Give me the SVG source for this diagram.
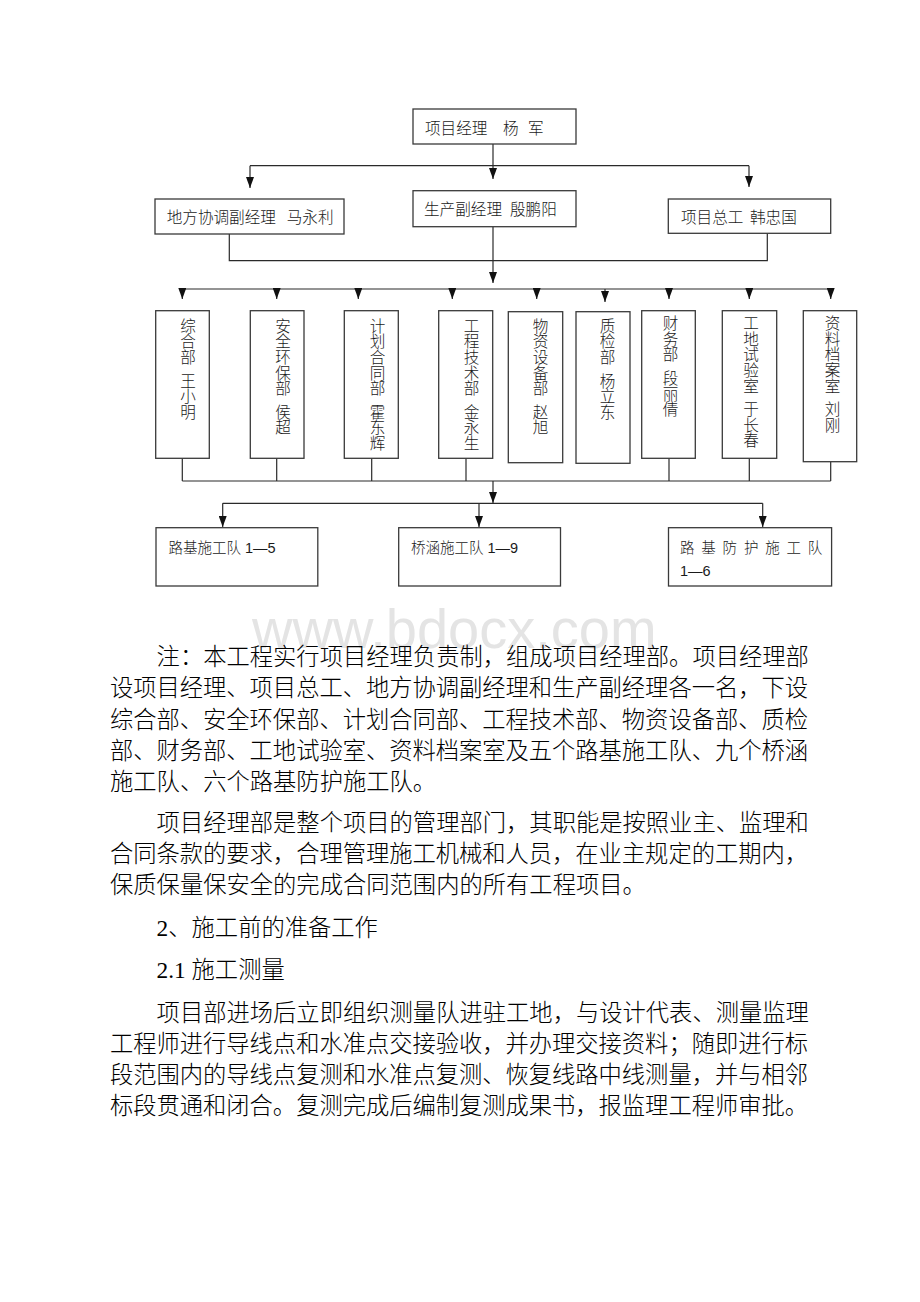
<svg xmlns="http://www.w3.org/2000/svg" width="920" height="1302" viewBox="0 0 920 1302">
<defs>
<style>
.box{fill:#fff;stroke:#3a3a3a;stroke-width:1.3}
.ln{fill:none;stroke:#2a2a2a;stroke-width:1.2}
.lbl{font-family:'Liberation Serif','Noto Sans CJK SC',serif;font-size:15.6px;font-weight:300;fill:#1a1a1a}
.vt{font-family:'Liberation Serif','Noto Sans CJK SC',serif;font-size:15.6px;font-weight:300;fill:#1a1a1a;writing-mode:vertical-rl}
.team{font-family:'Liberation Sans','Noto Sans CJK SC',sans-serif;font-size:14.5px;font-weight:300;fill:#1a1a1a}
.body{font-family:'Liberation Serif','Noto Sans CJK SC',serif;font-size:23.3px;font-weight:300;fill:#000}
.wm{font-family:'Liberation Sans',Arial,sans-serif;font-size:56px;fill:#e4e4e4}
</style>
<marker id="ah" viewBox="0 0 11 8" refX="11" refY="4" markerWidth="11" markerHeight="8" markerUnits="userSpaceOnUse" orient="auto"><path d="M0,0 L11,4 L0,8 z" fill="#111"/></marker>
</defs>
<rect width="920" height="1302" fill="#fff"/>

<g id="connectors">
<line class="ln" x1="493" y1="144" x2="493" y2="179" marker-end="url(#ah)"/>
<line class="ln" x1="250" y1="165.7" x2="749" y2="165.7"/>
<line class="ln" x1="250" y1="165.7" x2="250" y2="188" marker-end="url(#ah)"/>
<line class="ln" x1="749" y1="165.7" x2="749" y2="187" marker-end="url(#ah)"/>
<polyline class="ln" points="229.3,234 229.3,260.7 767.3,260.7 767.3,233.3"/>
<line class="ln" x1="493" y1="226.7" x2="493" y2="283" marker-end="url(#ah)"/>
<line class="ln" x1="182.3" y1="289" x2="830.7" y2="289"/>
<line class="ln" x1="182.3" y1="289" x2="182.3" y2="299" marker-end="url(#ah)"/>
<line class="ln" x1="276.7" y1="289" x2="276.7" y2="299" marker-end="url(#ah)"/>
<line class="ln" x1="358.3" y1="289" x2="358.3" y2="299" marker-end="url(#ah)"/>
<line class="ln" x1="452.3" y1="289" x2="452.3" y2="299" marker-end="url(#ah)"/>
<line class="ln" x1="536.7" y1="289" x2="536.7" y2="299" marker-end="url(#ah)"/>
<line class="ln" x1="605" y1="289" x2="605" y2="302" marker-end="url(#ah)"/>
<line class="ln" x1="669" y1="289" x2="669" y2="299" marker-end="url(#ah)"/>
<line class="ln" x1="749.3" y1="289" x2="749.3" y2="299" marker-end="url(#ah)"/>
<line class="ln" x1="830.7" y1="289" x2="830.7" y2="299" marker-end="url(#ah)"/>
<line class="ln" x1="182.3" y1="458.3" x2="182.3" y2="481"/>
<line class="ln" x1="276.7" y1="458.3" x2="276.7" y2="481"/>
<line class="ln" x1="371.7" y1="458.3" x2="371.7" y2="481"/>
<line class="ln" x1="466" y1="458.3" x2="466" y2="481"/>
<line class="ln" x1="669" y1="458.3" x2="669" y2="481"/>
<line class="ln" x1="749.3" y1="458.3" x2="749.3" y2="481"/>
<line class="ln" x1="830.7" y1="461.7" x2="830.7" y2="481"/>
<line class="ln" x1="182.3" y1="481" x2="830.7" y2="481"/>
<line class="ln" x1="493" y1="481" x2="493" y2="503" marker-end="url(#ah)"/>
<line class="ln" x1="222.7" y1="503.3" x2="762.7" y2="503.3"/>
<line class="ln" x1="222.7" y1="503.3" x2="222.7" y2="527" marker-end="url(#ah)"/>
<line class="ln" x1="479" y1="503.3" x2="479" y2="527" marker-end="url(#ah)"/>
<line class="ln" x1="762.7" y1="503.3" x2="762.7" y2="527" marker-end="url(#ah)"/>
</g>

<g id="pm"><rect class="box" x="413" y="109" width="163" height="35"/><text class="lbl" x="425" y="134" xml:space="preserve">项目经理　<tspan x="503">杨 </tspan><tspan x="528">军</tspan></text></g>
<g id="local"><rect class="box" x="155" y="199" width="189" height="35"/><text class="lbl" x="166.7" y="222.5">地方协调副经理 <tspan x="286.7">马永利</tspan></text></g>
<g id="prod"><rect class="box" x="413" y="190.7" width="163" height="36"/><text class="lbl" x="424" y="214.8">生产副经理 <tspan x="510">殷鹏阳</tspan></text></g>
<g id="chief"><rect class="box" x="668.3" y="199" width="162.4" height="34.3"/><text class="lbl" x="681" y="222.5">项目总工 <tspan x="750">韩忠国</tspan></text></g>

<g id="d1"><rect class="box" x="155.7" y="310.7" width="53.6" height="147.6"/><text class="vt" x="186.5" y="318">综合部<tspan dy="4"> 王小明</tspan></text></g>
<g id="d2"><rect class="box" x="250.3" y="310.7" width="53.7" height="147.6"/><text class="vt" x="281.5" y="318">安全环保部<tspan dy="4"> 侯超</tspan></text></g>
<g id="d3"><rect class="box" x="344.3" y="310.7" width="54" height="147.6"/><text class="vt" x="376" y="318">计划合同部<tspan dy="4"> 霍东辉</tspan></text></g>
<g id="d4"><rect class="box" x="438.7" y="310.7" width="54" height="147.6"/><text class="vt" x="470" y="318">工程技术部<tspan dy="4"> 金永生</tspan></text></g>
<g id="d5"><rect class="box" x="508.3" y="311.7" width="54.4" height="151"/><text class="vt" x="539" y="318">物资设备部<tspan dy="4"> 赵旭</tspan></text></g>
<g id="d6"><rect class="box" x="576" y="311.7" width="54" height="151.6"/><text class="vt" x="606" y="318">质检部<tspan dy="4"> 杨立东</tspan></text></g>
<g id="d7"><rect class="box" x="641.7" y="310.7" width="53.6" height="147.6"/><text class="vt" x="669" y="315.5">财务部<tspan dy="4"> 段丽倩</tspan></text></g>
<g id="d8"><rect class="box" x="722.3" y="310.7" width="54.4" height="147.6"/><text class="vt" x="749.5" y="315.5">工地试验室<tspan dy="4"> 于长春</tspan></text></g>
<g id="d9"><rect class="box" x="803.3" y="310.7" width="53.4" height="151"/><text class="vt" x="831" y="315.5">资料档案室<tspan dy="4"> 刘刚</tspan></text></g>

<g id="t1"><rect class="box" x="156" y="527.7" width="161.8" height="58.3"/><text class="team" x="168.5" y="553">路基施工队 1—5</text></g>
<g id="t2"><rect class="box" x="398.7" y="527.7" width="161.8" height="58.3"/><text class="team" x="411" y="553">桥涵施工队 1—9</text></g>
<g id="t3"><rect class="box" x="668.5" y="527.7" width="163.1" height="58.3"/><text class="team" x="680" y="553" letter-spacing="6.8">路基防护施工队</text><text class="team" x="680" y="575.5">1—6</text></g>

<text class="wm" x="252" y="648">www.bdocx.com</text>

<g id="body">
<text class="body" x="156.6" y="665">注：本工程实行项目经理负责制，组成项目经理部。项目经理部</text>
<text class="body" x="110" y="696" textLength="698" lengthAdjust="spacing">设项目经理、项目总工、地方协调副经理和生产副经理各一名，下设</text>
<text class="body" x="110" y="727.5" textLength="698" lengthAdjust="spacing">综合部、安全环保部、计划合同部、工程技术部、物资设备部、质检</text>
<text class="body" x="110" y="759" textLength="698" lengthAdjust="spacing">部、财务部、工地试验室、资料档案室及五个路基施工队、九个桥涵</text>
<text class="body" x="110" y="790">施工队、六个路基防护施工队。</text>
<text class="body" x="156.6" y="830.5">项目经理部是整个项目的管理部门，其职能是按照业主、监理和</text>
<text class="body" x="110" y="861.5" textLength="698" lengthAdjust="spacing">合同条款的要求，合理管理施工机械和人员，在业主规定的工期内，</text>
<text class="body" x="110" y="892.5">保质保量保安全的完成合同范围内的所有工程项目。</text>
<text class="body" x="156.6" y="935.5">2、施工前的准备工作</text>
<text class="body" x="156.6" y="977.5">2.1 施工测量</text>
<text class="body" x="156.6" y="1020.5">项目部进场后立即组织测量队进驻工地，与设计代表、测量监理</text>
<text class="body" x="110" y="1051.5" textLength="698" lengthAdjust="spacing">工程师进行导线点和水准点交接验收，并办理交接资料；随即进行标</text>
<text class="body" x="110" y="1082.5" textLength="698" lengthAdjust="spacing">段范围内的导线点复测和水准点复测、恢复线路中线测量，并与相邻</text>
<text class="body" x="110" y="1113.5" textLength="698" lengthAdjust="spacing">标段贯通和闭合。复测完成后编制复测成果书，报监理工程师审批。</text>
</g>
</svg>
